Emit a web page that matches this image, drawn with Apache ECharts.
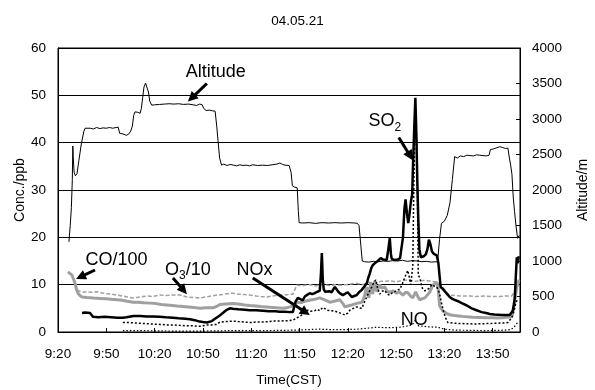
<!DOCTYPE html>
<html><head><meta charset="utf-8">
<script src="https://cdn.jsdelivr.net/npm/echarts/dist/echarts.min.js"></script>
<style>html,body{margin:0;padding:0;background:#fff}#c{width:595px;height:390px}</style>
</head><body><div id="c"></div><script>
// ---- data (time = minutes after 9:20 CST) ----
const chartTitle = '04.05.21';
const xTickLabels = ['9:20','9:50','10:20','10:50','11:20','11:50','12:20','12:50','13:20','13:50'];
const xMaxMinutes = 287; // right edge ~14:07
const leftTicks = [0, 60, 10];
const rightTicks = [0, 4000, 500];

const altitude = [[6.8,1270],[7.6,1500],[8.3,1750],[8.9,2150],[9.2,2620],[9.5,2450],[10.0,2250],[10.8,2200],[11.8,2230],[13.0,2420],[14.5,2650],[16.0,2820],[16.8,2870],[18,2855],[20,2870],[22,2860],[24,2880],[26,2865],[28,2875],[30,2870],[32,2880],[34,2870],[36,2880],[37.4,2885],[38.3,2800],[39.5,2780],[41,2785],[42.5,2770],[44,2790],[45.2,2830],[46.2,2900],[47.0,3050],[47.8,3100],[49.5,3095],[51.0,3080],[51.8,3150],[52.6,3300],[53.4,3450],[54.4,3505],[55.4,3480],[56.2,3380],[57.0,3250],[58.2,3195],[60,3200],[63,3205],[66,3210],[69,3215],[72,3210],[75,3215],[78,3205],[81,3210],[84,3200],[86,3190],[88,3210],[89.6,3200],[90.5,3150],[92,3120],[94,3125],[96,3115],[97.6,3110],[98.6,2900],[99.4,2700],[100.4,2450],[101.6,2350],[103,2365],[105,2345],[107,2360],[109,2350],[111,2340],[113,2355],[115,2345],[117,2350],[119,2340],[121,2355],[124,2345],[127,2350],[130,2345],[133,2355],[136,2365],[137.8,2380],[139.5,2360],[141,2350],[143.6,2345],[144.8,2250],[145.6,2060],[147,2040],[148.6,2030],[149.3,1700],[149.8,1540],[152,1535],[156,1540],[160,1530],[164,1540],[168,1535],[172,1540],[176,1535],[180,1540],[184.4,1535],[186,1530],[187,1500],[188.2,1200],[189.0,1000],[190.5,990],[193,985],[196,995],[199,990],[202,1000],[205,995],[208,1005],[211,1000],[214,1010],[217,995],[220,1005],[223,1000],[226,990],[229,995],[232,985],[235.8,990],[237.0,1300],[238.2,1530],[240,1560],[241.8,1640],[243.5,1820],[245,2150],[246.4,2470],[248,2450],[250,2480],[252,2470],[254,2490],[256,2485],[258,2480],[260,2495],[262,2490],[264,2485],[266,2480],[267.8,2490],[268.6,2570],[270,2575],[272,2590],[274.4,2610],[276,2600],[278,2585],[279.5,2590],[280.4,2450],[281.2,2350],[282.0,2220],[282.8,1900],[283.6,1700],[284.6,1480],[285.5,1320],[286.5,1360]];

const so2 = [[14.9,4.0],[17,4.1],[19.9,4.0],[21.0,3.9],[21.8,3.2],[25,3.1],[29,3.2],[33,3.1],[37,3.0],[40.3,3.0],[42.5,3.1],[43.5,3.5],[47,3.4],[51,3.4],[55,3.3],[59,3.3],[63,3.2],[67,3.1],[71.4,3.0],[75,2.9],[79,2.8],[82,2.7],[85,2.5],[88,2.2],[90,2.1],[92.5,2.0],[95.6,2.3],[97.5,2.8],[98.7,3.1],[100.5,3.5],[102.4,4.0],[104.5,4.6],[106.8,5.0],[108.6,4.9],[112,4.8],[116,4.7],[119.2,4.6],[123,4.6],[127.3,4.5],[131,4.4],[135,4.4],[137.8,4.3],[141,4.3],[144,4.2],[145.9,4.2],[146.8,5.5],[147.7,6.5],[149,7.2],[150.2,6.8],[152,6.7],[153.3,7.5],[155,7.9],[156.4,8.2],[158,8.0],[159.5,8.2],[161,8.5],[162.6,8.7],[163.3,12],[163.9,16.7],[164.5,11],[165.1,9.0],[166,8.5],[167,8.2],[168.5,8.6],[170.1,8.4],[171,9.0],[172,9.5],[173.5,8.8],[175,8.2],[176.9,7.8],[178.5,8.1],[180,8.4],[181.2,8.0],[182.5,7.4],[184,7.6],[185.6,7.8],[187,8.4],[188.7,8.9],[190.3,9.6],[191.8,10.3],[192.8,11.5],[193.7,12.4],[194.6,13.5],[195.5,14.1],[197,14.6],[198.6,15.0],[200.5,15.6],[202,15.3],[203.0,15.6],[204.2,15.2],[205.2,17.5],[206.1,19.8],[206.8,16.5],[207.3,15.5],[209,15.2],[211,15.3],[212.5,15.6],[213.5,16.0],[214.3,20],[215.2,26],[215.9,28.0],[216.8,25],[217.6,23.0],[218.4,25],[219.2,27.5],[220.0,29],[220.6,36],[221.4,44],[222.0,49.5],[222.6,42],[223.2,32],[223.8,24],[224.5,17.5],[225.4,15.8],[227.2,16.0],[228.5,16.4],[229.5,17.5],[230.4,19.5],[231.3,18.6],[232.3,17.0],[233.5,16.5],[235.3,16.2],[236.3,14.5],[237.0,12],[237.7,9.5],[239,9.1],[240.2,8.9],[241.8,8.0],[243.3,7.4],[245,7.0],[246.4,6.8],[248.5,6.5],[250.8,6.1],[254,5.6],[257,5.0],[260,4.6],[263.2,4.2],[266,4.0],[268.2,3.8],[271,3.7],[275.6,3.6],[278,3.6],[280.6,3.6],[281.6,4.0],[282.5,4.5],[283.2,5.8],[283.7,7.0],[284.3,11],[285.0,15.8],[285.5,14.5],[286.2,16.0]];

const co100 = [[6.2,12.7],[7.4,12.4],[8.7,12.0],[9.6,11.2],[10.6,10.3],[11.5,9.0],[12.4,8.2],[13.6,7.7],[14.9,7.4],[18,7.3],[22,7.2],[26.1,7.1],[30,7.0],[33,6.9],[36.6,6.8],[40,6.7],[43,6.5],[46.6,6.3],[50,6.3],[53,6.2],[57.1,6.1],[61,6.0],[64,5.8],[67.7,5.7],[71,5.6],[74,5.5],[77.6,5.4],[81,5.3],[84,5.2],[88.1,5.0],[92,5.1],[96.2,5.1],[98.5,5.4],[100.6,5.8],[104,5.9],[108.6,6.0],[112,5.9],[116,5.7],[119.2,5.6],[123,5.5],[126,5.4],[129.7,5.3],[133,5.2],[136,5.1],[139.7,5.0],[142,5.1],[144,5.3],[145.9,5.5],[147.5,5.9],[149.0,6.3],[151,6.2],[153.3,6.5],[156,6.7],[159.5,6.9],[162.6,7.2],[165.7,6.8],[168.8,6.3],[171.5,6.5],[175.0,6.8],[177,6.0],[178.2,5.3],[180,5.5],[182.5,5.7],[185,6.0],[188.7,6.3],[189.8,7.0],[190.6,7.8],[191.2,9.0],[191.8,9.5],[192.4,8.0],[193.1,7.2],[193.7,9.0],[194.3,10.5],[194.9,9.0],[195.5,8.0],[196.2,9.5],[196.8,10.8],[197.4,9.5],[198.0,8.5],[198.9,9.2],[199.9,10.0],[200.8,9.3],[201.7,8.9],[203,9.5],[204.5,8.6],[206.1,8.4],[208,8.7],[210.4,8.2],[212,8.5],[214.2,7.8],[216,8.4],[217.3,8.3],[219,7.6],[220.4,7.2],[222.2,8.5],[223.5,7.5],[224.7,6.8],[226,7.0],[227.8,7.2],[229.5,7.8],[230.9,8.4],[232,9.2],[232.8,9.9],[234,10.3],[235.3,10.5],[236.2,9.0],[237.1,5.5],[238,5.0],[239.0,4.5],[240.5,4.1],[242.1,3.8],[244,3.6],[246.4,3.5],[249,3.4],[251.4,3.3],[254,3.2],[257.6,3.1],[262,3.05],[266.3,3.0],[270,3.0],[273,2.95],[276.2,3.0],[279,3.1],[281.8,3.2],[282.8,4.5],[283.6,6.5],[284.4,8.0],[285.0,9.5],[285.8,10.5],[286.4,11.0]];

const o3div10 = [[11.8,8.9],[13.5,8.6],[15.5,8.4],[18,8.5],[21,8.4],[24.2,8.5],[27,8.3],[30,8.1],[33,8.0],[36.6,7.8],[40,7.6],[43,7.4],[46.6,7.2],[49,7.3],[52.8,7.5],[56,7.6],[59,7.5],[63.3,7.8],[67,7.7],[71,7.8],[75.7,7.8],[78,7.6],[80.1,7.4],[84,7.3],[88.1,7.2],[92,7.4],[95,7.6],[98.7,7.8],[102,7.9],[105,8.1],[108.6,8.2],[112,8.0],[116,7.9],[119.2,7.8],[123,7.6],[126,7.5],[129.7,7.4],[133,7.6],[136,7.7],[139.7,7.8],[143,7.9],[145.9,8.0],[147.2,9.0],[148.4,9.9],[152,9.8],[156.4,10.0],[160,9.7],[164,10.1],[168.8,9.8],[172,10.0],[176,9.9],[181.3,10.1],[185,10.3],[189,10.0],[193.7,10.5],[197,10.4],[201,10.7],[206.1,10.8],[210,10.6],[214,10.9],[218.5,11.0],[222,10.7],[226,10.9],[230.9,10.8],[234,10.6],[237.1,10.2],[238.6,9.6],[240.2,8.9],[241.7,8.2],[243.3,7.8],[246,7.7],[250,7.6],[255.8,7.6],[260,7.5],[265,7.6],[270,7.5],[274.4,7.5],[278,7.6],[281.8,7.6],[283,8.0],[284.3,9.0],[285.3,9.6],[286.2,10.0]];

const nox = [[40.3,2.0],[44,2.0],[49,1.9],[53,1.8],[58,1.7],[63.3,1.6],[68,1.5],[72,1.5],[75.7,1.4],[80,1.3],[84,1.3],[88.1,1.2],[90,1.3],[92.5,1.5],[95,1.5],[98.7,1.6],[100.6,2.1],[104,2.2],[108.6,2.3],[112,2.2],[116,2.1],[119.2,2.0],[123,2.1],[127.3,2.1],[131,2.2],[134,2.3],[137.8,2.3],[141,2.4],[143.5,2.4],[145.9,2.5],[148.4,3.0],[151.5,3.6],[153.5,4.2],[155.2,4.6],[157,4.4],[159.5,4.5],[161,4.8],[162.6,4.5],[164.5,5.2],[165.7,5.5],[167.6,4.6],[170,4.5],[172,4.4],[173.8,4.2],[176,3.9],[178.2,3.6],[180,4.0],[181.3,4.6],[183.5,5.0],[185.6,5.3],[187.3,5.1],[188.7,5.0],[190.2,6.2],[191.8,7.4],[193.3,8.5],[194.9,9.5],[196.2,10.5],[197.4,11.0],[198.6,9.2],[199.9,8.0],[201.4,8.6],[203.0,8.8],[204.6,8.0],[206.1,7.8],[207.7,8.3],[209.2,8.5],[210.8,8.9],[212.3,9.0],[213.9,10.2],[215.4,11.5],[216.3,12.2],[217.3,13.0],[218.2,11.6],[219.1,10.0],[219.8,12],[220.4,14.0],[221.0,30],[221.6,41.0],[222.9,41.0],[223.4,25],[223.8,12.0],[224.7,11.5],[225.6,10.2],[226.6,9.0],[228,8.7],[229.1,8.5],[230.5,9.2],[232.2,10.0],[233.8,9.7],[235.3,9.5],[236.3,8.8],[237.1,8.0],[238,6.5],[239.0,5.0],[240.5,3.2],[242.1,2.0],[245,1.9],[249.5,1.8],[254,1.75],[258.8,1.7],[263,1.75],[268.2,1.8],[272,1.85],[277.5,1.9],[279.5,2.0],[280.6,2.3],[281.6,2.9],[282.5,3.5],[283.4,4.6],[284.3,6.0],[285.5,7.0]];

const no = [[40.3,0.3],[50,0.3],[60,0.25],[70,0.2],[80,0.2],[90,0.2],[100,0.25],[110,0.3],[120,0.3],[130,0.3],[140,0.35],[148,0.4],[155,0.5],[162,0.6],[170,0.5],[178,0.5],[186,0.6],[192,0.8],[198,1.0],[205,0.9],[212,1.0],[216,1.2],[220,1.5],[222,2.5],[224,1.3],[230,1.1],[236,1.0],[240,0.6],[246,0.4],[255,0.35],[265,0.3],[275,0.35],[281,0.5],[283,0.9],[285,1.8],[286.2,2.2]];

// ---- annotation anchors (data coords: [minutes, ppb]) ----
const notes = [
  {main:'Altitude', at:[98,54.9], tail:[92.5,52.5], head:[80.7,48.7]},
  {main:'SO', sub:'2', at:[203,44.5], tail:[211.7,41.1], head:[220.4,36.3]},
  {main:'CO/100', at:[36.3,15.2], tail:[23.0,13.1], head:[11.2,11.2]},
  {main:'O', sub:'3', rest:'/10', at:[80.7,13.1], tail:[71.4,11.4], head:[80.1,8.0]},
  {main:'NOx', at:[122,13.1], tail:[121.0,11.4], head:[156.4,3.6]},
  {main:'NO', at:[221.3,2.5]}
];

const FONT = '"Liberation Sans", Arial, sans-serif';
const GRAY = '#a0a0a0';
const chart = echarts.init(document.getElementById('c'), null, {renderer:'canvas'});
const lbl = {color:'#000', fontSize:13.5, fontFamily:FONT};
const nm = {color:'#000', fontSize:14, fontFamily:FONT};

chart.setOption({
  animation:false,
  backgroundColor:'#fff',
  title:{text:chartTitle, left:'center', top:9, textStyle:{color:'#000', fontSize:13.5, fontWeight:'normal', fontFamily:FONT}},
  grid:{left:58, right:75, top:48, bottom:58, show:true, borderColor:'#000', borderWidth:1, containLabel:false, outerBoundsMode:'none'},
  xAxis:{type:'value', min:0, max:xMaxMinutes, interval:30,
    name:'Time(CST)', nameLocation:'middle', nameGap:41, nameTextStyle:lbl, nameMoveOverlap:false,
    axisLine:{show:true, lineStyle:{color:'#000', width:1}},
    axisTick:{show:true, inside:true, length:4, lineStyle:{color:'#000'}},
    splitLine:{show:false},
    axisLabel:Object.assign({margin:15, showMaxLabel:false, formatter:v => (v % 30 === 0 && xTickLabels[v/30]) ? xTickLabels[v/30] : ''}, lbl)},
  yAxis:[
    {type:'value', min:leftTicks[0], max:leftTicks[1], interval:leftTicks[2], position:'left',
     name:'Conc./ppb', nameLocation:'middle', nameGap:31, nameRotate:90, nameTextStyle:nm, nameMoveOverlap:false,
     axisLine:{show:true, lineStyle:{color:'#000'}},
     axisTick:{show:true, inside:true, length:4, lineStyle:{color:'#000'}},
     splitLine:{show:true, lineStyle:{color:'#000', width:1}},
     axisLabel:Object.assign({margin:12, formatter:v => String(v)}, lbl)},
    {type:'value', min:rightTicks[0], max:rightTicks[1], interval:rightTicks[2], position:'right',
     name:'Altitude/m', nameLocation:'middle', nameGap:56, nameRotate:90, nameTextStyle:nm, nameMoveOverlap:false,
     axisLine:{show:true, lineStyle:{color:'#000'}},
     axisTick:{show:true, inside:true, length:4, lineStyle:{color:'#000'}},
     splitLine:{show:false},
     axisLabel:Object.assign({margin:12, formatter:v => String(v)}, lbl)}
  ],
  series:[
    {name:'CO/100', type:'line', data:co100, yAxisIndex:0, symbol:'none', lineStyle:{color:GRAY, width:3}, z:2},
    {name:'O3/10', type:'line', data:o3div10, yAxisIndex:0, symbol:'none', lineStyle:{color:GRAY, width:1.5, type:[4,2]}, z:3},
    {name:'NO', type:'line', data:no, yAxisIndex:0, symbol:'none', lineStyle:{color:'#000', width:1.2, type:[1.5,2]}, z:3},
    {name:'NOx', type:'line', data:nox, yAxisIndex:0, symbol:'none', lineStyle:{color:'#000', width:1.5, type:[2,2]}, z:4},
    {name:'SO2', type:'line', data:so2, yAxisIndex:0, symbol:'none', lineStyle:{color:'#000', width:2.5}, z:5},
    {name:'Altitude', type:'line', data:altitude, yAxisIndex:1, symbol:'none', lineStyle:{color:'#000', width:1}, z:6}
  ]
});

// annotations
const cv = document.createElement('canvas').getContext('2d');
function tw(s, size){ cv.font = size + 'px ' + FONT; return cv.measureText(s).width; }
const P = p => chart.convertToPixel({xAxisIndex:0, yAxisIndex:0}, p);
const g = [];
const BIG = 18, SUB = 12;
notes.forEach(n => {
  const c = P(n.at);
  const w = tw(n.main, BIG) + (n.sub ? tw(n.sub, SUB) : 0) + (n.rest ? tw(n.rest, BIG) : 0);
  let x = c[0] - w/2;
  const y = c[1];
  const st = {fill:'#000', fontSize:BIG, fontFamily:FONT, textVerticalAlign:'middle', verticalAlign:'middle', align:'left', textAlign:'left'};
  g.push({type:'text', x:x, y:y, z:100, style:Object.assign({text:n.main}, st)});
  x += tw(n.main, BIG);
  if (n.sub) {
    g.push({type:'text', x:x, y:y+6, z:100, style:Object.assign({}, st, {text:n.sub, fontSize:SUB})});
    x += tw(n.sub, SUB);
  }
  if (n.rest) g.push({type:'text', x:x, y:y, z:100, style:Object.assign({text:n.rest}, st)});
  if (n.tail) {
    const a = P(n.tail), b = P(n.head);
    const dx = b[0]-a[0], dy = b[1]-a[1], L = Math.hypot(dx,dy), ux = dx/L, uy = dy/L;
    const HL = 10, HW = 5;
    const bx = b[0]-ux*HL, by = b[1]-uy*HL;
    g.push({type:'line', z:100, shape:{x1:a[0], y1:a[1], x2:bx+ux*1, y2:by+uy*1}, style:{stroke:'#000', lineWidth:3}});
    g.push({type:'polygon', z:100, shape:{points:[[b[0],b[1]],[bx-uy*HW, by+ux*HW],[bx+uy*HW, by-ux*HW]]}, style:{fill:'#000'}});
  }
});
chart.setOption({graphic:g});
</script></body></html>
